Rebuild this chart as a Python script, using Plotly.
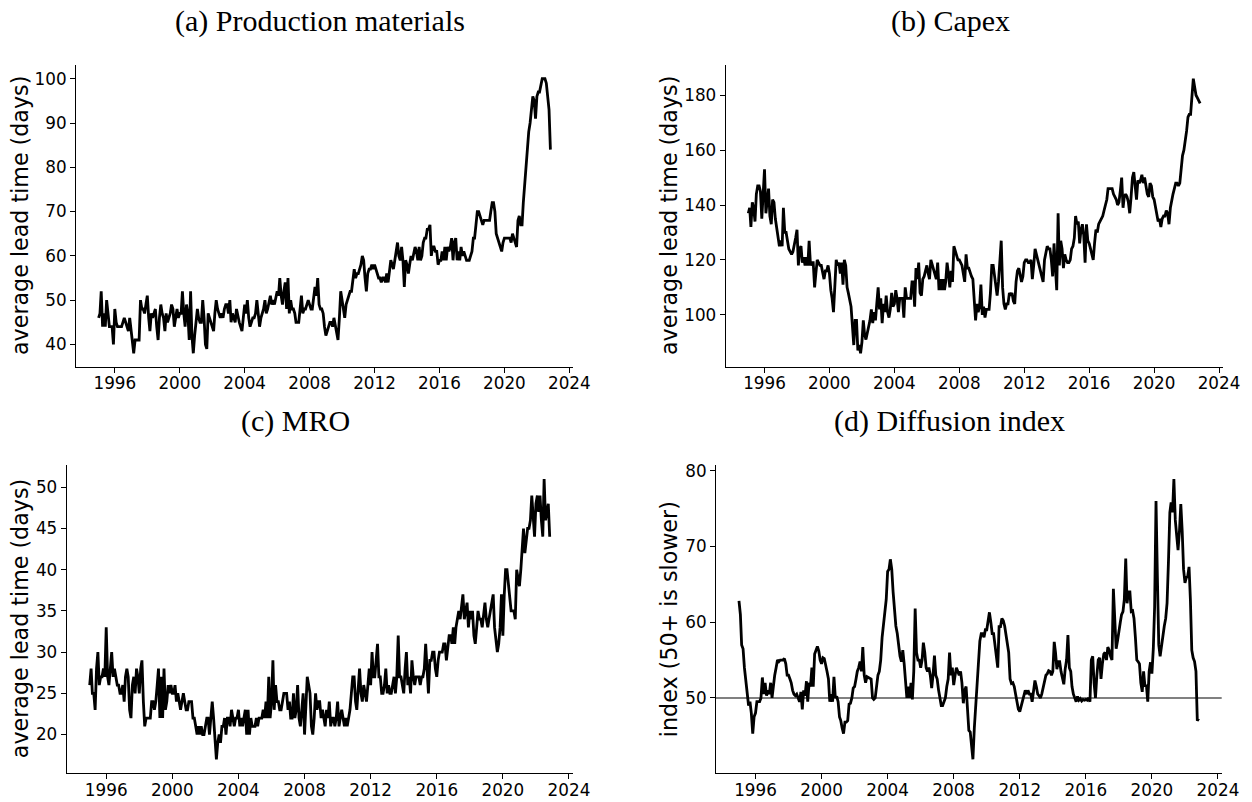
import pandas as pd
import plotly.graph_objects as go

W, H = 1252, 802

START = "1995-01-01"

# (a) Production materials, average lead time (days), monthly Jan-1995 .. Nov-2022
production = [
    46, 47, 52, 44, 47, 44, 50, 46, 44, 44, 44, 40,
    48, 45, 44, 44, 44, 44, 45, 46, 45, 44, 43, 46,
    43, 41, 38, 41, 41, 41, 41, 50, 48, 48, 47, 49,
    51, 46, 43, 47, 46, 47, 48, 44, 41, 46, 49, 47,
    46, 43, 47, 45, 46, 47, 49, 48, 44, 46, 48, 46,
    47, 47, 52, 47, 44, 49, 47, 41, 52, 42, 38, 42,
    45, 48, 46, 45, 45, 50, 46, 40, 39, 47, 46, 45,
    44, 43, 47, 50, 48, 47, 46, 47, 46, 48, 49, 49,
    47, 50, 45, 47, 46, 45, 48, 46, 45, 44, 43, 46,
    49, 47, 50, 46, 44, 45, 46, 46, 47, 50, 47, 44,
    46, 47, 48, 50, 47, 48, 50, 51, 49, 50, 49, 51,
    52, 51, 55, 51, 49, 52, 54, 48, 55, 47, 50, 48,
    48, 47, 45, 45, 45, 48, 51, 47, 48, 48, 49, 50,
    49, 48, 48, 50, 53, 51, 55, 49, 48, 48, 47, 44,
    42, 43, 44, 45, 45, 44, 46, 44, 43, 41, 46, 52,
    50, 48, 46, 49, 50, 51, 52, 52, 54, 57, 55, 56,
    56, 57, 58, 60, 59, 55, 52, 56, 57, 57, 58, 57,
    58, 57, 56, 55, 55, 54, 55, 55, 54, 56, 54, 57,
    59, 58, 57, 59, 61, 63, 60, 59, 62, 59, 53, 59,
    58, 56, 58, 60, 59, 61, 62, 61, 59, 62, 59, 60,
    63, 64, 64, 66, 66, 67, 60, 62, 62, 61, 61, 58,
    59, 59, 61, 59, 62, 59, 62, 61, 62, 64, 59, 63,
    64, 59, 61, 59, 62, 60, 61, 60, 59, 59, 59, 60,
    61, 64, 64, 67, 70, 70, 69, 68, 67, 68, 68, 68,
    68, 68, 70, 72, 72, 70, 65, 64, 63, 62, 61, 63,
    64, 64, 64, 64, 64, 63, 65, 64, 63, 62, 68, 69,
    67, 67, 72, 76, 82, 86, 88, 90, 94, 96, 95, 91,
    96, 97, 97, 99, 100, 100, 100, 99, 95, 93, 84,
]

# (b) Capex
capex = [
    137, 139, 132, 141, 139, 134, 144, 147, 147, 145, 135, 142,
    153, 137, 141, 146, 136, 133, 142, 141, 135, 132, 128, 125,
    127, 125, 139, 130, 130, 127, 124, 123, 122, 123, 125, 128,
    131, 118, 124, 125, 119, 121, 118, 121, 118, 127, 118, 119,
    119, 110, 115, 120, 119, 118, 118, 115, 113, 116, 116, 118,
    115, 109, 106, 101, 113, 120, 118, 119, 115, 119, 111, 120,
    118, 110, 108, 106, 103, 96, 89, 98, 98, 87, 89, 86,
    90, 98, 93, 91, 93, 96, 98, 102, 97, 101, 98, 104,
    110, 102, 106, 97, 104, 101, 107, 101, 99, 102, 108, 103,
    104, 109, 106, 101, 106, 106, 106, 99, 110, 106, 106, 106,
    106, 112, 112, 103, 117, 113, 119, 108, 107, 113, 114, 116,
    118, 115, 113, 120, 118, 117, 115, 113, 119, 109, 113, 109,
    113, 109, 112, 119, 115, 110, 116, 112, 125, 123, 122, 120,
    120, 119, 118, 115, 112, 122, 117, 117, 115, 114, 113, 105,
    98, 104, 101, 103, 111, 100, 103, 99, 102, 102, 102, 108,
    118, 118, 115, 112, 107, 112, 120, 127, 110, 104, 102, 104,
    104, 108, 107, 108, 105, 104, 112, 116, 117, 114, 112, 114,
    119, 120, 120, 119, 119, 120, 113, 118, 124, 122, 120, 117,
    116, 114, 112, 120, 123, 125, 124, 124, 120, 114, 126, 115,
    109, 137, 118, 127, 124, 117, 122, 120, 119, 119, 120, 124,
    125, 128, 136, 133, 134, 126, 131, 133, 129, 119, 133, 127,
    126, 124, 122, 120, 126, 131, 130, 133, 134, 135, 136, 138,
    140, 142, 146, 146, 146, 146, 144, 143, 142, 140, 141, 145,
    150, 139, 143, 144, 143, 141, 137, 143, 150, 152, 148, 142,
    149, 148, 149, 151, 148, 150, 147, 144, 143, 148, 147, 143,
    142, 139, 136, 134, 135, 132, 135, 136, 136, 138, 137, 133,
    139, 142, 144, 146, 148, 148, 147, 148, 153, 158, 160, 163,
    167, 172, 173, 173, 181, 186, 183, 180, 179, 178, 177,
]

# (c) MRO
mro = [
    26, 28, 25, 25, 23, 28, 30, 26, 27, 27, 28, 27,
    33, 27, 26, 28, 30, 27, 28, 27, 26, 26, 25, 25,
    26, 24, 27, 28, 27, 23, 22, 26, 27, 25, 28, 27,
    25, 28, 29, 24, 21, 22, 22, 22, 22, 24, 24, 23,
    24, 26, 28, 22, 27, 22, 28, 23, 24, 26, 25, 26,
    25, 25, 26, 24, 25, 24, 23, 24, 25, 24, 23, 23,
    24, 24, 24, 22, 22, 21, 20, 21, 20, 21, 20, 20,
    21, 22, 22, 20, 22, 24, 22, 20, 17, 19, 20, 19,
    21, 21, 22, 20, 22, 22, 21, 23, 22, 21, 22, 22,
    23, 21, 22, 21, 22, 23, 20, 23, 20, 22, 21, 21,
    21, 22, 21, 22, 22, 22, 23, 22, 24, 22, 27, 22,
    24, 29, 23, 26, 24, 24, 23, 23, 24, 25, 25, 25,
    23, 24, 22, 22, 25, 22, 23, 26, 22, 21, 23, 25,
    20, 24, 27, 26, 25, 21, 20, 22, 25, 23, 24, 24,
    22, 23, 22, 21, 23, 22, 24, 21, 22, 22, 21, 22,
    24, 21, 22, 23, 22, 21, 22, 21, 22, 23, 25, 27,
    27, 24, 23, 26, 28, 25, 24, 26, 25, 24, 26, 28,
    26, 30, 27, 27, 29, 31, 27, 27, 25, 25, 26, 28,
    25, 26, 25, 25, 26, 27, 25, 27, 32, 27, 27, 26,
    25, 28, 30, 26, 27, 25, 29, 27, 26, 27, 27, 27,
    26, 27, 27, 28, 31, 27, 25, 29, 29, 30, 30, 28,
    27, 29, 30, 30, 30, 31, 31, 29, 31, 32, 32, 31,
    33, 31, 33, 34, 35, 34, 36, 37, 34, 35, 36, 33,
    35, 34, 35, 32, 31, 33, 35, 34, 34, 33, 35, 36,
    34, 33, 34, 35, 36, 37, 33, 31, 30, 31, 33, 37,
    32, 37, 40, 40, 38, 36, 35, 35, 35, 34, 40, 39,
    38, 40, 43, 45, 42, 44, 45, 45, 46, 49, 46, 44,
    48, 49, 47, 49, 46, 44, 51, 46, 47, 48, 44,
]

# (d) Diffusion index
diffusion = [
    62.8, 61.0, 57.0, 56.5, 54.0, 52.0, 51.0, 49.0, 49.5, 48.0, 45.3, 47.5,
    48.0, 49.5, 49.5, 49.5, 50.0, 52.7, 50.5, 52.0, 50.3, 51.0, 50.5, 52.0,
    50.0, 52.0, 53.0, 54.0, 55.0, 54.8, 55.0, 55.0, 55.0, 55.2, 54.5, 53.0,
    53.0, 52.5, 52.0, 51.0, 50.5, 50.3, 50.5, 50.0, 49.5, 50.8, 48.5, 51.0,
    50.3, 52.2, 49.5, 52.0, 51.5, 54.0, 51.5, 55.8, 56.5, 56.8, 56.2, 55.0,
    54.5, 55.3, 55.2, 54.5, 53.5, 52.5, 49.5, 50.5, 49.5, 52.8, 50.0, 50.2,
    49.5, 47.5, 47.0, 46.0, 45.3, 46.8, 46.8, 47.0, 49.2, 49.3, 50.0, 51.3,
    51.5, 52.5, 53.5, 54.0, 54.8, 53.5, 56.7, 53.0, 52.0, 52.8, 52.7, 52.6,
    52.5, 50.0, 49.8, 50.0, 51.5, 53.0, 53.5, 55.0, 58.0, 60.0, 62.0, 63.0,
    66.7, 67.0, 68.3, 67.0, 64.0, 61.0, 59.5, 58.5, 56.5, 55.5, 54.8, 56.3,
    54.5, 52.5, 50.0, 51.5, 50.0, 52.0, 49.8, 53.5, 61.8, 56.0, 55.0, 55.0,
    54.0, 55.0, 57.3, 56.0, 54.0, 53.5, 54.0, 53.0, 51.3, 53.0, 55.6, 53.0,
    52.5, 51.0, 50.0, 49.0, 49.0, 49.5, 50.0, 51.5, 52.5, 56.0, 53.0, 54.0,
    51.7, 53.0, 54.0, 53.5, 53.0, 53.5, 52.0, 49.3, 51.0, 51.5, 48.0, 45.7,
    45.5, 43.0, 41.9, 46.0, 49.0, 51.4, 55.0, 57.5, 58.5, 58.5, 58.0, 59.0,
    59.0, 60.0, 61.3, 60.0, 58.5, 58.5, 57.0, 55.0, 54.0, 59.4, 59.4, 60.5,
    60.2, 59.5, 58.5, 57.5, 56.0, 52.5, 51.9, 52.0, 51.5, 50.5, 49.5, 48.5,
    48.2, 49.0, 49.5, 50.5, 51.0, 50.5, 51.0, 50.5, 50.5, 49.5, 51.0, 52.3,
    51.5, 50.5, 50.3, 50.0, 50.5, 51.5, 52.5, 53.0, 53.2, 53.6, 53.5, 53.0,
    53.5, 57.4, 56.0, 53.8, 54.8, 54.8, 53.5, 52.7, 51.8, 53.8, 55.0, 58.3,
    54.0, 53.5, 51.5, 50.5, 50.0, 49.5, 50.2, 49.7, 49.9, 49.6, 49.8, 49.7,
    49.8, 49.7, 50.0, 49.5, 55.0, 55.5, 52.0, 50.0, 53.0, 55.0, 55.3, 52.5,
    54.5, 55.8, 56.0, 55.0, 56.7, 56.3, 55.5, 55.0, 64.4, 60.0, 56.5, 57.5,
    58.5, 60.0, 61.0, 61.4, 63.0, 68.4, 62.5, 64.0, 64.0, 61.4, 61.5, 60.5,
    58.0, 55.0, 54.8, 54.5, 52.0, 50.8, 53.5, 51.5, 51.7, 49.5, 53.5, 54.7,
    53.2, 56.5, 62.0, 76.0, 66.0, 57.0, 55.5, 57.0, 58.5, 59.5, 60.5, 62.5,
    68.0, 74.5, 75.8, 74.5, 78.9, 73.5, 71.5, 69.5, 72.0, 75.6, 72.0, 67.0,
    65.2, 65.9, 66.0, 67.3, 63.0, 56.3, 55.3, 54.8, 53.5, 47.0, 47.3,
]

titles = ["(a) Production materials", "(b) Capex", "(c) MRO", "(d) Diffusion index"]
ylabels = ["average lead time (days)", "average lead time (days)",
           "average lead time (days)", "index (50+ is slower)"]
y_dticks = [10, 20, 5, 10]
x_tick_years = list(range(1996, 2025, 4))
reference_level = 50

series = [production, capex, mro, diffusion]

# panel boxes in pixels (left, right, top, bottom)
boxes = [
    (76, 573, 65, 367),
    (725.7, 1222.7, 65, 367),
    (66.7, 572.7, 465, 773.3),
    (716, 1221.7, 465, 773.3),
]
title_pos = [(320, 21), (950, 21), (295, 421), (949, 421)]
ylabel_x = [20, 669, 20, 669]

fig = go.Figure()
tick_font = dict(family="DejaVu Sans", size=16.8, color="black")

for i, vals in enumerate(series):
    n = i + 1
    dates = pd.date_range(START, periods=len(vals), freq="MS")
    fig.add_trace(go.Scatter(
        x=dates, y=vals, mode="lines",
        line=dict(color="black", width=2.8),
        xaxis=f"x{n}", yaxis=f"y{n}", showlegend=False,
        hoverinfo="skip",
    ))
    l, r, t, b = boxes[i]
    # matplotlib-like 5% margins
    d0, d1 = dates[0], dates[-1]
    span = d1 - d0
    xr = [d0 - span * 0.05, d1 + span * 0.05]
    vmin, vmax = min(vals), max(vals)
    vs = vmax - vmin
    yr = [vmin - 0.05 * vs, vmax + 0.05 * vs]
    axis_common = dict(
        showgrid=False, zeroline=False, showline=True, linecolor="black",
        linewidth=1.1, ticks="outside", ticklen=5, tickwidth=1.1,
        tickcolor="black", tickfont=tick_font, mirror=False,
        automargin=False,
    )
    fig.layout[f"xaxis{n}"] = dict(
        domain=[l / W, r / W], anchor=f"y{n}", type="date", range=xr,
        tickvals=[pd.Timestamp(f"{y}-01-01") for y in x_tick_years],
        ticktext=[str(y) for y in x_tick_years],
        ticklabelstandoff=-4,
        **axis_common,
    )
    fig.layout[f"yaxis{n}"] = dict(
        domain=[1 - b / H, 1 - t / H], anchor=f"x{n}", range=yr,
        dtick=y_dticks[i], tick0=0, ticklabelstandoff=0,
        **axis_common,
    )
    tx, ty = title_pos[i]
    fig.add_annotation(
        text=titles[i], xref="paper", yref="paper", x=tx / W, y=1 - ty / H,
        xanchor="center", yanchor="middle", showarrow=False,
        font=dict(family="Liberation Serif", size=30, color="black"),
    )
    fig.add_annotation(
        text=ylabels[i], xref="paper", yref="paper",
        x=ylabel_x[i] / W, y=1 - ((t + b) / 2) / H,
        xanchor="center", yanchor="middle", textangle=-90, showarrow=False,
        font=dict(family="DejaVu Sans", size=22.2, color="black"),
    )

fig.add_shape(
    type="line", xref="x4 domain", yref="y4", x0=0, x1=1,
    y0=reference_level, y1=reference_level,
    line=dict(color="#808080", width=2), layer="below",
)

fig.update_layout(
    width=W, height=H,
    margin=dict(l=0, r=0, t=0, b=0, pad=0, autoexpand=False),
    paper_bgcolor="white", plot_bgcolor="white",
)

fig.write_html(
    "out.html",
    config={"displayModeBar": False},
    post_script="document.body.style.margin='0px';document.body.style.overflow='hidden';",
)
